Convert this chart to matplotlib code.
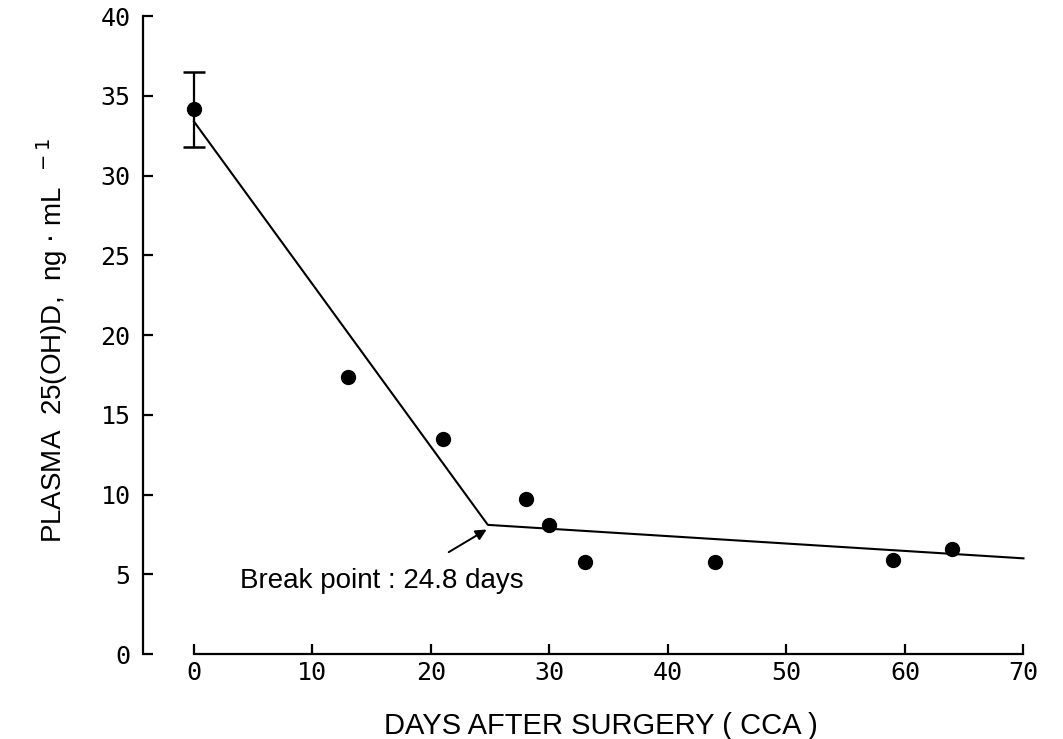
import numpy as np
import matplotlib.pyplot as plt

# 数据: 术后天数与血浆 25(OH)D
days = [0, 13, 21, 28, 30, 33, 44, 59, 64]
plasma = [34.2, 17.4, 13.5, 9.7, 8.1, 5.8, 5.8, 5.9, 6.6]
err_low = [2.4, 0, 0, 0, 0, 0, 0, 0, 0]
err_high = [2.3, 0, 0, 0, 0, 0, 0, 0, 0]

# 分段回归线 (断点 24.8 天)
fit_x = [0, 24.8, 70]
fit_y = [33.4, 8.1, 6.0]

x_ticks = [0, 10, 20, 30, 40, 50, 60, 70]
y_ticks = [0, 5, 10, 15, 20, 25, 30, 35, 40]

fig = plt.figure(figsize=(10.63, 7.39), dpi=100)
ax = fig.add_axes([0.1345, 0.115, 0.835, 0.863])

ax.plot(fit_x, fit_y, color='black', lw=1.5)
ax.plot(days, plasma, 'o', color='black', ms=10)
ax.errorbar(days[:1], plasma[:1], yerr=[err_low[:1], err_high[:1]],
            fmt='none', ecolor='black', elinewidth=1.6, capsize=8, capthick=1.8)

ax.set_xlim(-4.3, 70.6)
ax.set_ylim(0, 40)
ax.spines['top'].set_visible(False)
ax.spines['right'].set_visible(False)
ax.spines['bottom'].set_bounds(0, 70)
ax.spines['left'].set_bounds(0, 40)
for s in ('left', 'bottom'):
    ax.spines[s].set_linewidth(1.6)

ax.set_xticks(x_ticks)
ax.set_yticks(y_ticks)
ax.tick_params(direction='in', length=7, width=1.6, labelsize=18)
ax.tick_params(axis='x', pad=5)
ax.tick_params(axis='y', pad=9)
for lab in ax.get_xticklabels() + ax.get_yticklabels():
    lab.set_family('DejaVu Sans Mono')

ax.set_xlabel('DAYS AFTER SURGERY ( CCA )', fontsize=21,
              family='Liberation Sans')
ax.xaxis.set_label_coords(0.516, -0.113)
ax.xaxis.label.set_va('center')
ax.set_ylabel(r'PLASMA  25(OH)D,  ng $\cdot$ mL$^{\ \ -1}$', fontsize=20,
              family='Liberation Sans')
ax.yaxis.set_label_coords(-0.102, 0.492)
ax.yaxis.label.set_va('center')

ax.annotate('', xy=(24.9, 7.9), xytext=(21.3, 6.3),
            arrowprops=dict(arrowstyle='-|>', color='black', lw=1.4,
                            mutation_scale=16))
ax.text(3.9, 4.6, 'Break point : 24.8 days', fontsize=20,
        family='Liberation Sans', va='center')

fig.savefig('out.png', dpi=100)
